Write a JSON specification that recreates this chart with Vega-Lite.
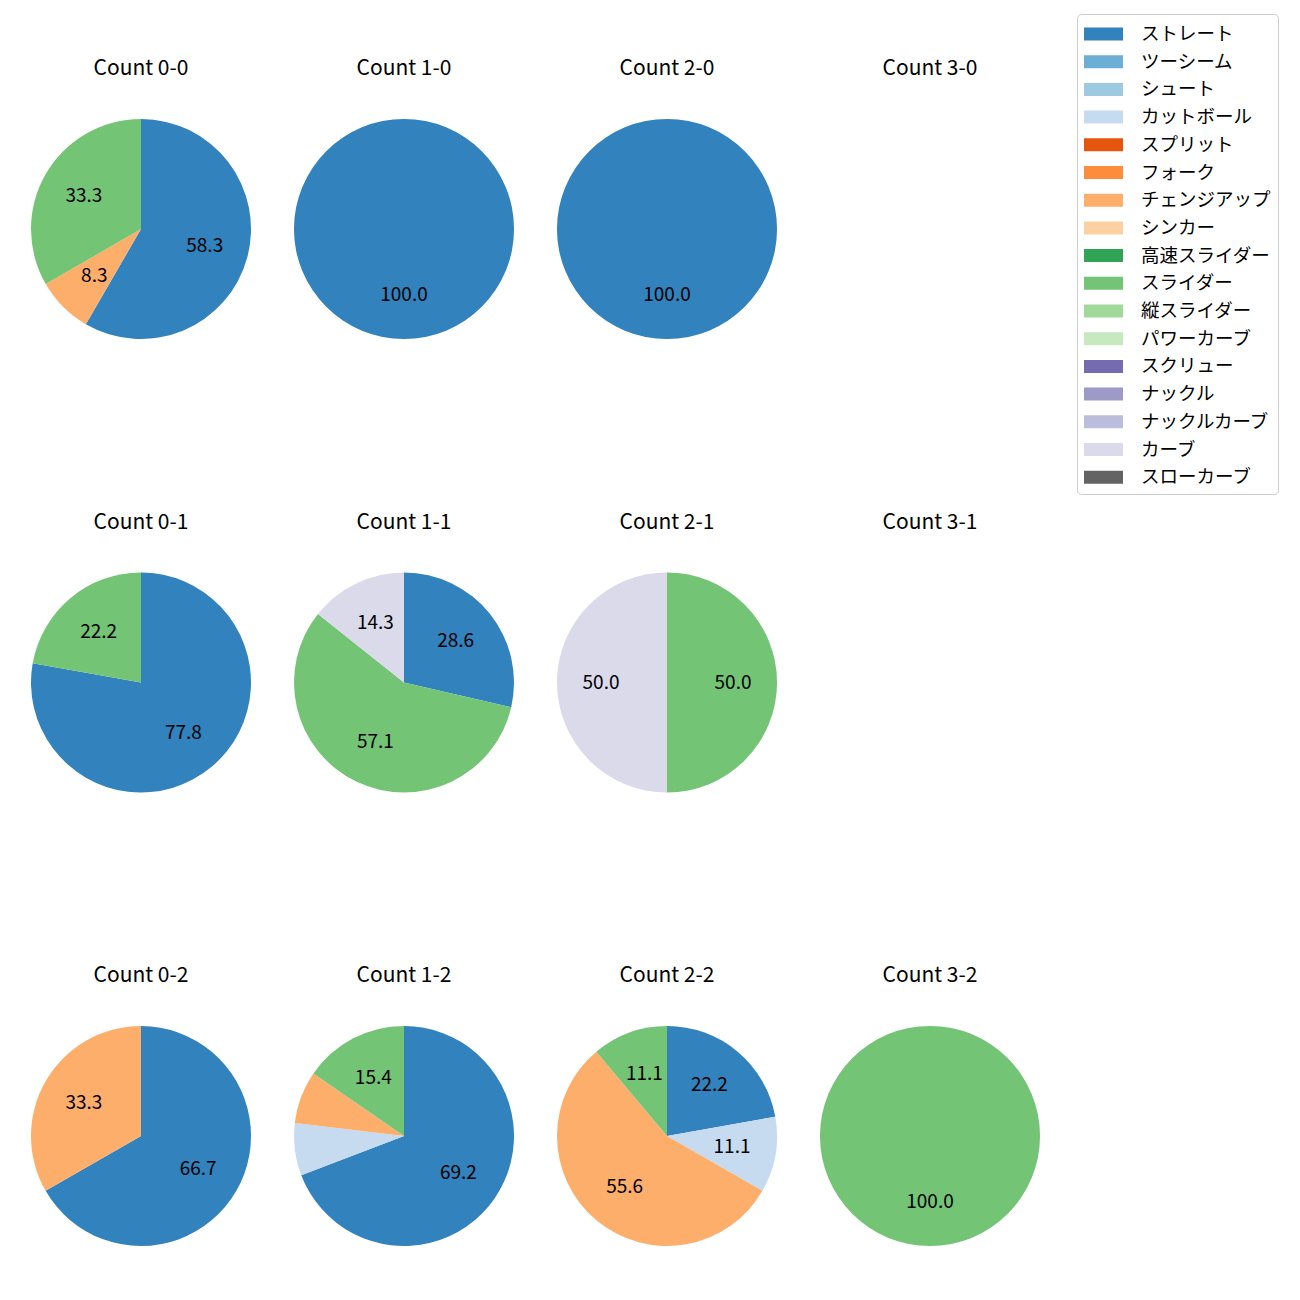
{
  "$schema": "https://vega.github.io/schema/vega-lite/v6.json",
  "padding": {"left": 31, "top": 13, "right": 17, "bottom": 20},
  "background": "white",
  "data": {"values": [
    {"count": "0-0", "type": "ストレート", "pct": 58.3},
    {"count": "0-0", "type": "チェンジアップ", "pct": 8.3},
    {"count": "0-0", "type": "スライダー", "pct": 33.3},
    {"count": "1-0", "type": "ストレート", "pct": 100.0},
    {"count": "2-0", "type": "ストレート", "pct": 100.0},
    {"count": "0-1", "type": "ストレート", "pct": 77.8},
    {"count": "0-1", "type": "スライダー", "pct": 22.2},
    {"count": "1-1", "type": "ストレート", "pct": 28.6},
    {"count": "1-1", "type": "スライダー", "pct": 57.1},
    {"count": "1-1", "type": "カーブ", "pct": 14.3},
    {"count": "2-1", "type": "スライダー", "pct": 50.0},
    {"count": "2-1", "type": "カーブ", "pct": 50.0},
    {"count": "0-2", "type": "ストレート", "pct": 66.7},
    {"count": "0-2", "type": "チェンジアップ", "pct": 33.3},
    {"count": "1-2", "type": "ストレート", "pct": 69.2},
    {"count": "1-2", "type": "カットボール", "pct": 7.7},
    {"count": "1-2", "type": "チェンジアップ", "pct": 7.7},
    {"count": "1-2", "type": "スライダー", "pct": 15.4},
    {"count": "2-2", "type": "ストレート", "pct": 22.2},
    {"count": "2-2", "type": "カットボール", "pct": 11.1},
    {"count": "2-2", "type": "チェンジアップ", "pct": 55.6},
    {"count": "2-2", "type": "スライダー", "pct": 11.1},
    {"count": "3-2", "type": "スライダー", "pct": 100.0}
  ]},
  "transform": [
    {"calculate": "indexof(['ストレート','ツーシーム','シュート','カットボール','スプリット','フォーク','チェンジアップ','シンカー','高速スライダー','スライダー','縦スライダー','パワーカーブ','スクリュー','ナックル','ナックルカーブ','カーブ','スローカーブ'], datum.type)", "as": "ord"}
  ],
  "columns": 4,
  "spacing": {"row": 172.5, "column": 43},
  "resolve": {"scale": {"theta": "independent"}},
  "concat": [
    {"title": "Count 0-0", "width": 220, "height": 220, "transform": [{"filter": "datum.count === '0-0'"}],
     "layer": [
      {"mark": {"type": "arc", "outerRadius": 110}, "encoding": {"theta": {"field": "pct", "type": "quantitative", "stack": true}, "order": {"field": "ord", "type": "quantitative"}, "color": {"field": "type", "type": "nominal", "scale": {"domain": ["ストレート","ツーシーム","シュート","カットボール","スプリット","フォーク","チェンジアップ","シンカー","高速スライダー","スライダー","縦スライダー","パワーカーブ","スクリュー","ナックル","ナックルカーブ","カーブ","スローカーブ"], "range": ["#3182bd","#6baed6","#9ecae1","#c6dbef","#e6550d","#fd8d3c","#fdae6b","#fdd0a2","#31a354","#74c476","#a1d99b","#c7e9c0","#756bb1","#9e9ac8","#bcbddc","#dadaeb","#636363"]}, "legend": {"orient": "none", "legendX": 1046, "legendY": -105, "title": null, "labelFontSize": 18.5, "labelFont": "Noto Sans CJK JP", "labelColor": "black", "labelOffset": 31, "symbolType": "M-1,-0.5H2V0.5H-1Z", "symbolSize": 676, "symbolStrokeWidth": 0, "symbolOpacity": 1, "rowPadding": 4.7, "padding": 7, "strokeColor": "#cccccc", "cornerRadius": 4, "fillColor": "white"}}}},
      {"mark": {"type": "text", "radius": 66, "fontSize": 19, "color": "black"}, "encoding": {"theta": {"field": "pct", "type": "quantitative", "stack": true}, "order": {"field": "ord", "type": "quantitative"}, "text": {"condition": {"test": "datum.pct < 8", "value": ""}, "field": "pct", "type": "quantitative", "format": ".1f"}}}
     ]},
    {"title": "Count 1-0", "width": 220, "height": 220, "transform": [{"filter": "datum.count === '1-0'"}],
     "layer": [
      {"mark": {"type": "arc", "outerRadius": 110}, "encoding": {"theta": {"field": "pct", "type": "quantitative", "stack": true}, "order": {"field": "ord", "type": "quantitative"}, "color": {"field": "type", "type": "nominal"}}},
      {"mark": {"type": "text", "radius": 66, "fontSize": 19, "color": "black"}, "encoding": {"theta": {"field": "pct", "type": "quantitative", "stack": true}, "order": {"field": "ord", "type": "quantitative"}, "text": {"condition": {"test": "datum.pct < 8", "value": ""}, "field": "pct", "type": "quantitative", "format": ".1f"}}}
     ]},
    {"title": "Count 2-0", "width": 220, "height": 220, "transform": [{"filter": "datum.count === '2-0'"}],
     "layer": [
      {"mark": {"type": "arc", "outerRadius": 110}, "encoding": {"theta": {"field": "pct", "type": "quantitative", "stack": true}, "order": {"field": "ord", "type": "quantitative"}, "color": {"field": "type", "type": "nominal"}}},
      {"mark": {"type": "text", "radius": 66, "fontSize": 19, "color": "black"}, "encoding": {"theta": {"field": "pct", "type": "quantitative", "stack": true}, "order": {"field": "ord", "type": "quantitative"}, "text": {"condition": {"test": "datum.pct < 8", "value": ""}, "field": "pct", "type": "quantitative", "format": ".1f"}}}
     ]},
    {"title": "Count 3-0", "width": 220, "height": 220, "transform": [{"filter": "datum.count === '3-0'"}],
     "layer": [
      {"mark": {"type": "arc", "outerRadius": 110}, "encoding": {"theta": {"field": "pct", "type": "quantitative", "stack": true}, "order": {"field": "ord", "type": "quantitative"}, "color": {"field": "type", "type": "nominal"}}}
     ]},
    {"title": "Count 0-1", "width": 220, "height": 220, "transform": [{"filter": "datum.count === '0-1'"}],
     "layer": [
      {"mark": {"type": "arc", "outerRadius": 110}, "encoding": {"theta": {"field": "pct", "type": "quantitative", "stack": true}, "order": {"field": "ord", "type": "quantitative"}, "color": {"field": "type", "type": "nominal"}}},
      {"mark": {"type": "text", "radius": 66, "fontSize": 19, "color": "black"}, "encoding": {"theta": {"field": "pct", "type": "quantitative", "stack": true}, "order": {"field": "ord", "type": "quantitative"}, "text": {"condition": {"test": "datum.pct < 8", "value": ""}, "field": "pct", "type": "quantitative", "format": ".1f"}}}
     ]},
    {"title": "Count 1-1", "width": 220, "height": 220, "transform": [{"filter": "datum.count === '1-1'"}],
     "layer": [
      {"mark": {"type": "arc", "outerRadius": 110}, "encoding": {"theta": {"field": "pct", "type": "quantitative", "stack": true}, "order": {"field": "ord", "type": "quantitative"}, "color": {"field": "type", "type": "nominal"}}},
      {"mark": {"type": "text", "radius": 66, "fontSize": 19, "color": "black"}, "encoding": {"theta": {"field": "pct", "type": "quantitative", "stack": true}, "order": {"field": "ord", "type": "quantitative"}, "text": {"condition": {"test": "datum.pct < 8", "value": ""}, "field": "pct", "type": "quantitative", "format": ".1f"}}}
     ]},
    {"title": "Count 2-1", "width": 220, "height": 220, "transform": [{"filter": "datum.count === '2-1'"}],
     "layer": [
      {"mark": {"type": "arc", "outerRadius": 110}, "encoding": {"theta": {"field": "pct", "type": "quantitative", "stack": true}, "order": {"field": "ord", "type": "quantitative"}, "color": {"field": "type", "type": "nominal"}}},
      {"mark": {"type": "text", "radius": 66, "fontSize": 19, "color": "black"}, "encoding": {"theta": {"field": "pct", "type": "quantitative", "stack": true}, "order": {"field": "ord", "type": "quantitative"}, "text": {"condition": {"test": "datum.pct < 8", "value": ""}, "field": "pct", "type": "quantitative", "format": ".1f"}}}
     ]},
    {"title": "Count 3-1", "width": 220, "height": 220, "transform": [{"filter": "datum.count === '3-1'"}],
     "layer": [
      {"mark": {"type": "arc", "outerRadius": 110}, "encoding": {"theta": {"field": "pct", "type": "quantitative", "stack": true}, "order": {"field": "ord", "type": "quantitative"}, "color": {"field": "type", "type": "nominal"}}}
     ]},
    {"title": "Count 0-2", "width": 220, "height": 220, "transform": [{"filter": "datum.count === '0-2'"}],
     "layer": [
      {"mark": {"type": "arc", "outerRadius": 110}, "encoding": {"theta": {"field": "pct", "type": "quantitative", "stack": true}, "order": {"field": "ord", "type": "quantitative"}, "color": {"field": "type", "type": "nominal"}}},
      {"mark": {"type": "text", "radius": 66, "fontSize": 19, "color": "black"}, "encoding": {"theta": {"field": "pct", "type": "quantitative", "stack": true}, "order": {"field": "ord", "type": "quantitative"}, "text": {"condition": {"test": "datum.pct < 8", "value": ""}, "field": "pct", "type": "quantitative", "format": ".1f"}}}
     ]},
    {"title": "Count 1-2", "width": 220, "height": 220, "transform": [{"filter": "datum.count === '1-2'"}],
     "layer": [
      {"mark": {"type": "arc", "outerRadius": 110}, "encoding": {"theta": {"field": "pct", "type": "quantitative", "stack": true}, "order": {"field": "ord", "type": "quantitative"}, "color": {"field": "type", "type": "nominal"}}},
      {"mark": {"type": "text", "radius": 66, "fontSize": 19, "color": "black"}, "encoding": {"theta": {"field": "pct", "type": "quantitative", "stack": true}, "order": {"field": "ord", "type": "quantitative"}, "text": {"condition": {"test": "datum.pct < 8", "value": ""}, "field": "pct", "type": "quantitative", "format": ".1f"}}}
     ]},
    {"title": "Count 2-2", "width": 220, "height": 220, "transform": [{"filter": "datum.count === '2-2'"}],
     "layer": [
      {"mark": {"type": "arc", "outerRadius": 110}, "encoding": {"theta": {"field": "pct", "type": "quantitative", "stack": true}, "order": {"field": "ord", "type": "quantitative"}, "color": {"field": "type", "type": "nominal"}}},
      {"mark": {"type": "text", "radius": 66, "fontSize": 19, "color": "black"}, "encoding": {"theta": {"field": "pct", "type": "quantitative", "stack": true}, "order": {"field": "ord", "type": "quantitative"}, "text": {"condition": {"test": "datum.pct < 8", "value": ""}, "field": "pct", "type": "quantitative", "format": ".1f"}}}
     ]},
    {"title": "Count 3-2", "width": 220, "height": 220, "transform": [{"filter": "datum.count === '3-2'"}],
     "layer": [
      {"mark": {"type": "arc", "outerRadius": 110}, "encoding": {"theta": {"field": "pct", "type": "quantitative", "stack": true}, "order": {"field": "ord", "type": "quantitative"}, "color": {"field": "type", "type": "nominal"}}},
      {"mark": {"type": "text", "radius": 66, "fontSize": 19, "color": "black"}, "encoding": {"theta": {"field": "pct", "type": "quantitative", "stack": true}, "order": {"field": "ord", "type": "quantitative"}, "text": {"condition": {"test": "datum.pct < 8", "value": ""}, "field": "pct", "type": "quantitative", "format": ".1f"}}}
     ]}
  ],
  "config": {
    "font": "Noto Sans CJK JP",
    "view": {"stroke": null},
    "title": {"fontSize": 21, "fontWeight": "normal", "baseline": "bottom", "offset": 40, "color": "black", "anchor": "middle"},
    "text": {"font": "Noto Sans CJK JP"}
  }
}
